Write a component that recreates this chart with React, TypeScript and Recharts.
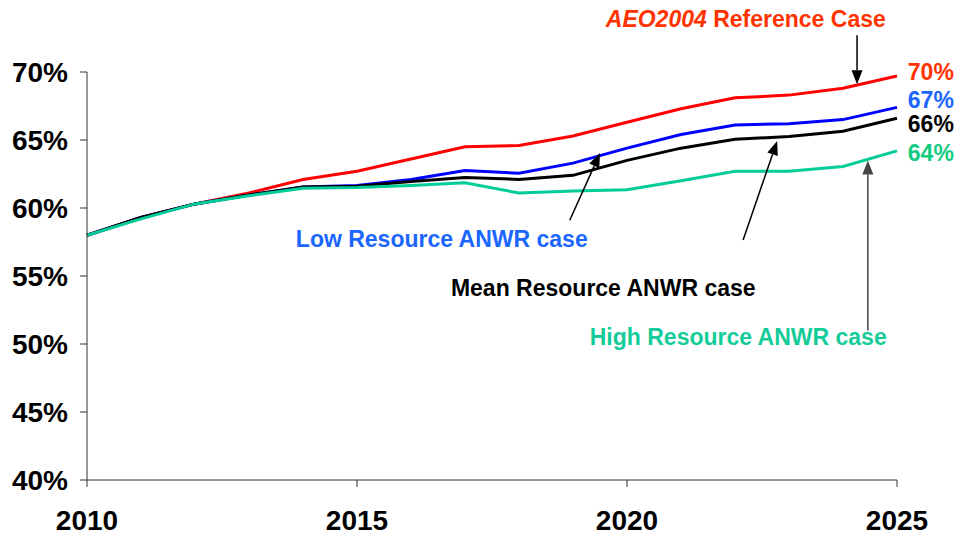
import { LineChart, Line, XAxis, YAxis, ReferenceLine, ReferenceDot } from "recharts"

const years = [2010, 2011, 2012, 2013, 2014, 2015, 2016, 2017, 2018, 2019, 2020, 2021, 2022, 2023, 2024, 2025]
const referenceCase = [58.0, 59.3, 60.3, 61.1, 62.1, 62.7, 63.6, 64.5, 64.6, 65.3, 66.3, 67.3, 68.1, 68.3, 68.8, 69.7]
const lowCase = [58.0, 59.3, 60.3, 60.95, 61.55, 61.65, 62.1, 62.75, 62.55, 63.3, 64.4, 65.4, 66.1, 66.2, 66.5, 67.4]
const meanCase = [58.0, 59.3, 60.3, 60.95, 61.55, 61.6, 61.95, 62.25, 62.1, 62.4, 63.5, 64.4, 65.05, 65.25, 65.65, 66.6]
const highCase = [58.0, 59.2, 60.3, 60.9, 61.45, 61.5, 61.65, 61.85, 61.1, 61.25, 61.35, 62.0, 62.7, 62.7, 63.05, 64.2]

const xTicks = [2010, 2015, 2020, 2025]
const yTicks = [40, 45, 50, 55, 60, 65, 70]

const endLabels = [
  { text: "70%", x: 2025.2, y: 70.0, color: "#ff3300" },
  { text: "67%", x: 2025.2, y: 67.94, color: "#1a66ff" },
  { text: "66%", x: 2025.2, y: 66.18, color: "#000000" },
  { text: "64%", x: 2025.2, y: 64.04, color: "#14cc80" },
]

const caseLabels = [
  { text: "Low Resource ANWR case", x: 2016.57, y: 57.72, color: "#1a66ff" },
  { text: "Mean Resource ANWR case", x: 2019.56, y: 54.12, color: "#000000" },
  { text: "High Resource ANWR case", x: 2022.06, y: 50.51, color: "#14cc99" },
]

// arrows: from label towards the line
const arrows = [
  { x1: 2024.26, y1: 72.7, x2: 2024.26, y2: 69.1, color: "#000" },
  { x1: 2018.94, y1: 59.1, x2: 2019.5, y2: 64.04, color: "#000" },
  { x1: 2022.15, y1: 57.65, x2: 2022.78, y2: 64.93, color: "#000" },
  { x1: 2024.46, y1: 51.0, x2: 2024.46, y2: 63.5, color: "#444" },
]

const data = years.map((year, i) => ({
  year,
  reference: referenceCase[i],
  low: lowCase[i],
  mean: meanCase[i],
  high: highCase[i],
}))

const font = "Arial, 'Liberation Sans', sans-serif"

function Arrow(props: any) {
  const { x1, y1, x2, y2, color } = props
  const dx = x2 - x1
  const dy = y2 - y1
  const len = Math.sqrt(dx * dx + dy * dy)
  const ux = dx / len
  const uy = dy / len
  const headLen = 14
  const headW = 5.5
  const bx = x2 - ux * headLen
  const by = y2 - uy * headLen
  const pts = `${x2},${y2} ${bx - uy * headW},${by + ux * headW} ${bx + uy * headW},${by - ux * headW}`
  return (
    <g>
      <line x1={x1} y1={y1} x2={bx} y2={by} stroke={color} strokeWidth={1.5} />
      <polygon points={pts} fill={color} />
    </g>
  )
}

export default function App() {
  return (
    <div style={{ position: "absolute", left: 0, top: 0, width: 959, height: 535, background: "#fff" }}>
      <LineChart width={959} height={535} data={data} margin={{ top: 72, right: 62, left: 0, bottom: 0 }}>
        <XAxis
          dataKey="year"
          type="number"
          domain={[2010, 2025]}
          ticks={xTicks}
          height={55}
          tickSize={7}
          tickMargin={23}
          stroke="#333"
          tick={{ fill: "#000", fontSize: 28, fontWeight: "bold", fontFamily: font }}
        />
        <YAxis
          type="number"
          domain={[40, 70]}
          ticks={yTicks}
          width={87}
          tickSize={7}
          tickMargin={12}
          stroke="#333"
          tickFormatter={(v: number) => `${v}%`}
          tick={{ fill: "#000", fontSize: 28, fontWeight: "bold", fontFamily: font }}
        />
        <Line type="linear" dataKey="reference" stroke="#ff0000" strokeWidth={3} dot={false} isAnimationActive={false} />
        <Line type="linear" dataKey="low" stroke="#0000ff" strokeWidth={3} dot={false} isAnimationActive={false} />
        <Line type="linear" dataKey="mean" stroke="#000000" strokeWidth={3} dot={false} isAnimationActive={false} />
        <Line type="linear" dataKey="high" stroke="#00cc99" strokeWidth={3} dot={false} isAnimationActive={false} />

        {arrows.map((a, i) => (
          <ReferenceLine
            key={`arrow-${i}`}
            segment={[{ x: a.x1, y: a.y1 }, { x: a.x2, y: a.y2 }]}
            ifOverflow="visible"
            shape={(p: any) => <Arrow x1={p.x1} y1={p.y1} x2={p.x2} y2={p.y2} color={a.color} />}
          />
        ))}

        <ReferenceDot
          x={2022.2}
          y={73.9}
          ifOverflow="visible"
          shape={(p: any) => (
            <text x={p.cx} y={p.cy} textAnchor="middle" dominantBaseline="central" fill="#ff3300" fontSize={23} fontWeight="bold" fontFamily={font}>
              <tspan fontStyle="italic">AEO2004</tspan> Reference Case
            </text>
          )}
        />

        {caseLabels.map((l, i) => (
          <ReferenceDot
            key={`case-${i}`}
            x={l.x}
            y={l.y}
            ifOverflow="visible"
            shape={(p: any) => (
              <text x={p.cx} y={p.cy} textAnchor="middle" dominantBaseline="central" fill={l.color} fontSize={23} fontWeight="bold" fontFamily={font}>
                {l.text}
              </text>
            )}
          />
        ))}

        {endLabels.map((l, i) => (
          <ReferenceDot
            key={`end-${i}`}
            x={l.x}
            y={l.y}
            ifOverflow="visible"
            shape={(p: any) => (
              <text x={p.cx} y={p.cy} textAnchor="start" dominantBaseline="central" fill={l.color} fontSize={23} fontWeight="bold" fontFamily={font}>
                {l.text}
              </text>
            )}
          />
        ))}
      </LineChart>
    </div>
  )
}
